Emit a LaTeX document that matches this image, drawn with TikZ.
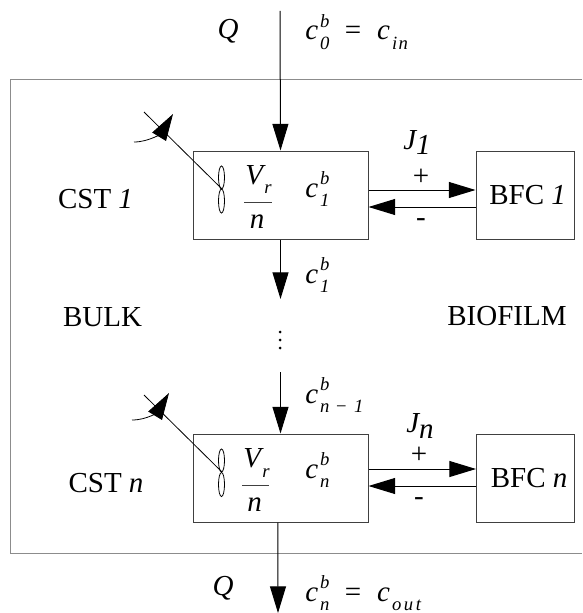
\documentclass[tikz,border=0pt]{standalone}
\usepackage{fontspec}
\setmainfont{Liberation Serif}
\usetikzlibrary{arrows.meta}

\newcommand{\conc}[2]{\textit{c}\hspace{1.5pt}\rlap{\raisebox{9.25pt}{\fontsize{14}{14}\selectfont\textit{#1}}}\raisebox{-7.25pt}{\fontsize{14}{14}\selectfont\textit{#2}}}

\begin{document}
\begin{tikzpicture}[x=.75pt, y=-.75pt]

        % Setup the styles for the boxes and the texts
        \tikzset{tank style/.style={draw=black!75,
                                    minimum width=131.25pt,
                                    minimum height=66pt,
                                    line width=.75pt
                                    },
                 film style/.style={draw=black!75,
                                    minimum width=73.5pt,
                                    minimum height=66pt,
                                    line width=.75pt,
                                    font=\fontsize{21.75}{25}\selectfont
                                    },
                 label style/.style={inner sep=0pt,
                                     font=\fontsize{21.75}{25}\selectfont
                                     },
                 conc style/.style={label style, anchor=base west},
                 word style/.style={label style, anchor=base},
                 blade style/.style={draw=black, line width=.6pt},
                 >={Triangle[length=20pt, width=12pt]}
                 }

        \useasboundingbox (0,0) rectangle (582,613);

        % Draw the outline of the reactor
        \draw[line width=.75pt, black!45] (582,80) -- (10,80) -- (10,553) -- (582,553);

        % Draw the tanks and the film compartments
        \node[tank style] at (280.5, 195)  (CSTone) {};
        \node[tank style] at (280.5, 478)  (CSTn)   {};
        \node[film style] at (525, 195)    (BFCone) {\hspace*{4pt}BFC \textit{1}};
        \node[film style] at (525.5, 478)  (BFCn)   {\hspace*{5.5pt}BFC \textit{n}};

        % Free ends of the connectors
        \coordinate (inlet)     at (280, 11);
        \coordinate (outlet)    at (278, 613);
        \coordinate (firstout)  at (280.5, 299);
        \coordinate (lastin)    at (280.5, 372);
        \coordinate (shaftone)  at (222, 189);
        \coordinate (shaftn)    at (222, 472);
        \coordinate (shafttipone) at (144, 112);
        \coordinate (shafttipn)   at (144, 395);

        % Connect the tanks along the flow
        \draw[->, line width=.75pt] (inlet) -- (CSTone.north);
        \draw[->, line width=.75pt] (CSTone.south) -- (firstout);
        \draw[->, line width=.75pt] (lastin) -- (CSTn.north);
        \draw[->, line width=.75pt] ([xshift=-1.9pt]CSTn.south) -- (outlet);

        % Connect the tanks with the film compartments
        \draw[->, line width=.75pt] ([yshift=3.75pt]CSTone.east) -- ([yshift=3.75pt]BFCone.west);
        \draw[->, line width=.75pt] ([yshift=-9pt]BFCone.west) -- ([yshift=-9pt]CSTone.east);
        \draw[->, line width=.75pt] ([yshift=6.75pt]CSTn.east) -- ([yshift=6.75pt]BFCn.west);
        \draw[->, line width=.75pt] ([yshift=-6pt]BFCn.west) -- ([yshift=-6pt]CSTn.east);

        % Draw the stirrers
        \draw[blade style] (shaftone) -- (shafttipone);
        \draw[blade style] (221.5, 177.5) ellipse (3 and 11.5);
        \draw[blade style] (221.5, 201) ellipse (3 and 12);
        \draw[->, blade style] (134, 142) .. controls (150, 142) and (162, 132) .. (173, 114);
        \draw[blade style] (shaftn) -- (shafttipn);
        \draw[blade style] (221.5, 460.5) ellipse (3 and 11.5);
        \draw[blade style] (221.5, 484.5) ellipse (3 and 12);
        \draw[->, blade style] (132, 420) .. controls (148, 420) and (158, 411) .. (169, 393);

        % Draw the volume fractions
        \node[conc style] at (245, 184) (Vone) {\textit{V}};
        \node[conc style] at (264, 193) (rone) {\fontsize{14}{14}\selectfont\textit{r}};
        \node[word style] at (257, 228) (none) {\textit{n}};
        \draw[line width=.75pt, black!75] (244, 202) -- (272, 202);
        \node[conc style] at (243, 467) (Vn) {\textit{V}};
        \node[conc style] at (262, 477) (rn) {\fontsize{14}{14}\selectfont\textit{r}};
        \node[word style] at (254.5, 511) (nn) {\textit{n}};
        \draw[line width=.75pt, black!75] (242, 485) -- (269, 485);

        % Write the concentrations
        \node[label style] at (228, 31)  (Qin)  {\textit{Q}};
        \node[label style] at (223, 588) (Qout) {\textit{Q}};
        \node[conc style] at (305, 40)  (cin)    {\conc{b}{0}\hspace{11.5pt}=\hspace{12pt}\conc{}{i\hspace{1pt}n}};
        \node[conc style] at (305, 197) (cone)   {\conc{b}{1}};
        \node[conc style] at (305, 283) (ctwo)   {\conc{b}{1}};
        \node[conc style] at (305, 403) (cprev)  {\conc{b}{n\hspace{5pt}\upshape\char"2212\hspace{5.5pt}\itshape 1}};
        \node[conc style] at (305, 478) (cn)     {\conc{b}{n}};
        \node[conc style] at (305, 601) (cout)   {\conc{b}{n}\hspace{11.5pt}=\hspace{12pt}\conc{}{o\hspace{1.9pt}u\hspace{1.9pt}t}};

        % Write the remaining labels
        \node[word style] at (95.5, 208) (CSTonelabel) {CST \textit{1}};
        \node[word style] at (106, 492)  (CSTnlabel)   {CST \textit{n}};
        \node[word style] at (102.5, 326) (bulk)       {BULK};
        \node[word style] at (507, 325) (biofilm)      {BIOFILM};
        \node[conc style] at (403, 149) (Jone) {\textit{J\raisebox{-4.5pt}{1}}};
        \node[conc style] at (406, 432) (Jn)   {\textit{J\raisebox{-4.5pt}{n}}};
        \node[label style] at (421, 177) (plusone)  {+};
        \node[label style] at (421, 223) (minusone) {-};
        \node[label style] at (419, 455) (plusn)    {+};
        \node[label style] at (419, 502) (minusn)   {-};

        % Draw the dots between the tanks
        \foreach \doty in {332, 340, 348}
            \fill (280, \doty) circle (1.5);

\end{tikzpicture}
\end{document}
